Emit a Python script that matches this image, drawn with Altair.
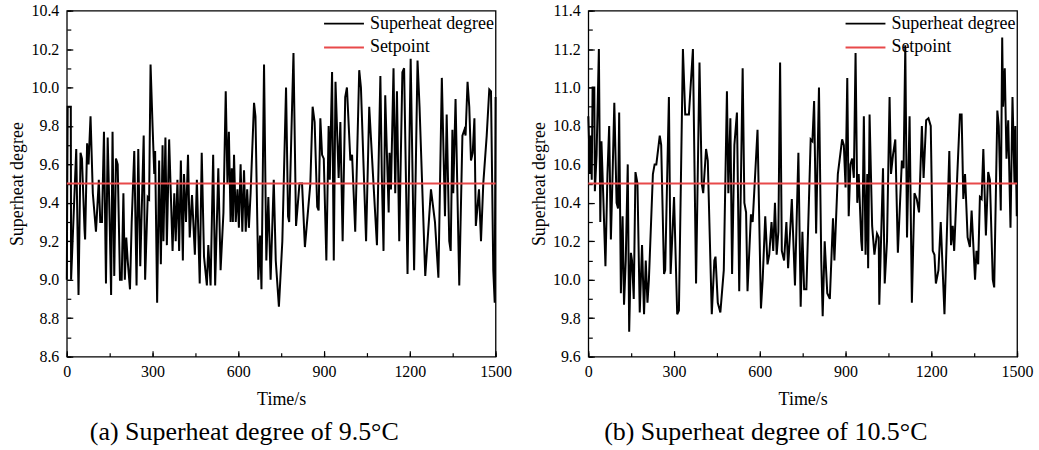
import altair as alt
import pandas as pd

FONT = "Liberation Serif"

# ---------------- data ----------------
t_a = [0, 3, 14, 15, 33, 41, 48, 53, 62, 64,
       71, 76, 83, 91, 102, 112, 117, 123, 130, 137,
       143, 150, 155, 160, 166, 172, 178, 186, 192, 198,
       203, 208, 213, 221, 227, 236, 244, 250, 257, 269,
       274, 283, 288, 293, 300, 306, 309, 316, 323, 329,
       335, 338, 345, 350, 358, 370, 376, 381, 387, 393,
       399, 406, 410, 417, 424, 430, 438, 448, 455, 465,
       472, 480, 490, 495, 503, 512, 519, 530, 538, 548,
       556, 562, 567, 573, 577, 581, 585, 591, 597, 602,
       608, 614, 620, 626, 631, 637, 643, 655, 660, 670,
       676, 681, 690, 698, 705, 713, 724, 731, 742, 754,
       767, 774, 778, 786, 793, 802, 814, 823, 833, 852,
       860, 867, 876, 881, 887, 893, 899, 908, 916, 920,
       928, 934, 940, 951, 957, 965, 974, 980, 992, 998,
       1009, 1023, 1029, 1047, 1058, 1071, 1085, 1097, 1102, 1108,
       1114, 1120, 1126, 1129, 1134, 1143, 1149, 1155, 1163, 1174,
       1180, 1192, 1203, 1215, 1227, 1234, 1254, 1274, 1288, 1300,
       1312, 1323, 1329, 1338, 1343, 1349, 1352, 1360, 1373, 1384,
       1391, 1395, 1402, 1408, 1414, 1420, 1426, 1431, 1442, 1449,
       1457, 1469, 1478, 1484, 1492, 1497, 1500]
v_a = [9.0, 9.9, 9.9, 9.0, 9.68, 8.92, 9.66, 9.63, 9.26, 9.21,
       9.71, 9.6, 9.85, 9.45, 9.25, 9.52, 9.3, 9.3, 9.77, 8.98,
       9.74, 9.3, 8.92, 9.77, 9.02, 9.63, 9.6, 9.0, 9.0, 9.45,
       9.0, 9.22, 9.1, 8.95, 9.3, 9.67, 8.97, 9.68, 9.07, 9.75,
       9.0, 9.43, 9.42, 10.12, 9.8, 9.55, 9.67, 8.88, 9.62, 9.08,
       9.7, 9.2, 9.74, 9.18, 9.73, 9.15, 9.45, 9.2, 9.52, 9.15,
       9.62, 9.1, 9.55, 9.3, 9.65, 9.22, 9.44, 9.13, 9.52, 8.98,
       9.66, 9.12, 8.97, 9.18, 8.97, 9.65, 8.97, 9.58, 9.05, 9.35,
       9.98, 9.5, 9.77, 9.3, 9.58, 9.3, 9.65, 9.3, 9.47, 9.27,
       9.6, 9.25, 9.57, 9.25, 9.47, 9.27, 9.45, 9.92, 9.85, 9.0,
       9.23, 8.95, 10.12, 9.1, 9.43, 9.0, 9.52, 9.1, 8.86, 9.2,
       10.0, 9.33, 9.3, 9.78, 10.18, 9.28, 9.5, 9.5, 9.17, 9.5,
       9.9, 9.82, 9.38, 9.36, 9.84, 9.65, 9.63, 9.1, 9.8, 9.52,
       10.08, 9.1, 10.03, 9.53, 9.82, 9.2, 9.95, 10.0, 9.62, 9.65,
       9.25, 10.09, 10.0, 9.2, 9.9, 9.55, 9.18, 10.06, 9.55, 9.15,
       9.96, 9.65, 9.35, 9.66, 9.47, 10.1, 9.45, 9.98, 9.2, 10.08,
       10.1, 9.03, 10.15, 9.05, 10.14, 9.9, 9.02, 9.47, 9.3, 9.01,
       10.05, 9.33, 9.86, 9.2, 9.15, 9.78, 9.45, 9.94, 8.97, 9.75,
       9.78, 9.75, 10.03, 9.9, 9.62, 9.66, 9.84, 9.28, 9.47, 9.2,
       9.5, 9.75, 9.99, 9.98, 9.05, 8.88, 9.95]

t_b = [0, 6, 9, 12, 15, 21, 23, 29, 37, 42,
       46, 52, 60, 67, 73, 79, 85, 91, 99, 104,
       108, 114, 120, 125, 131, 138, 143, 149, 153, 159,
       165, 172, 180, 188, 195, 201, 207, 212, 226, 232,
       238, 250, 255, 265, 269, 282, 288, 300, 311, 317,
       331, 339, 352, 366, 377, 389, 397, 402, 412, 418,
       432, 441, 445, 453, 462, 474, 485, 490, 497, 503,
       511, 520, 528, 540, 546, 552, 557, 569, 575, 592,
       604, 610, 619, 627, 633, 641, 647, 653, 659, 665,
       671, 677, 685, 693, 699, 706, 712, 723, 735, 743,
       749, 755, 763, 778, 784, 790, 797, 801, 807, 815,
       820, 827, 836, 845, 856, 861, 873, 888, 894, 900,
       906, 911, 917, 923, 929, 935, 941, 946, 955, 958,
       964, 970, 976, 979, 984, 993, 1001, 1010, 1016, 1018,
       1031, 1037, 1045, 1054, 1059, 1066, 1074, 1083, 1097, 1103,
       1109, 1115, 1124, 1132, 1141, 1149, 1157, 1167, 1173, 1182,
       1190, 1198, 1205, 1211, 1216, 1225, 1233, 1246, 1263, 1269,
       1275, 1280, 1291, 1300, 1306, 1312, 1318, 1327, 1335, 1341,
       1353, 1358, 1364, 1370, 1376, 1382, 1391, 1399, 1405, 1415,
       1420, 1431, 1436, 1443, 1448, 1451, 1457, 1463, 1469, 1477,
       1484, 1491, 1494, 1499]
v_b = [10.85, 10.55, 10.75, 10.52, 11.0, 11.0, 10.46, 10.65, 11.2, 10.3,
       10.72, 10.45, 10.07, 10.55, 10.8, 10.21, 10.55, 10.92, 10.4, 10.37,
       10.87, 9.93, 10.33, 9.87, 10.1, 10.6, 9.73, 10.14, 10.1, 9.9,
       10.56, 10.5, 9.83, 10.18, 9.82, 10.1, 9.88, 10.0, 10.55, 10.6,
       10.6, 10.75, 10.7, 10.03, 10.05, 10.95, 10.03, 10.43, 9.82, 9.84,
       11.2, 10.86, 10.86, 11.2, 9.98, 11.13, 10.5, 10.45, 10.68, 10.62,
       9.82, 10.1, 10.12, 9.88, 9.83, 10.05, 10.98, 10.45, 10.84, 10.03,
       10.7, 10.87, 9.94, 11.1, 10.4, 10.35, 9.94, 10.34, 10.3, 10.78,
       9.85, 10.0, 10.33, 10.08, 10.13, 10.3, 10.15, 10.4, 10.13, 10.25,
       11.13, 10.15, 10.1, 10.3, 10.06, 10.25, 10.42, 9.97, 10.66, 9.86,
       10.25, 9.95, 9.95, 10.73, 10.72, 10.93, 10.24, 10.55, 11.0, 10.1,
       9.81, 10.2, 9.93, 9.9, 10.32, 10.1, 10.55, 10.73, 10.7, 10.48,
       11.05, 10.33, 10.6, 10.63, 10.53, 11.18, 10.4, 10.55, 10.2, 10.15,
       10.85, 10.13, 10.55, 10.06, 10.86, 10.28, 10.13, 10.24, 10.22, 9.87,
       10.58, 9.98, 10.2, 10.95, 10.55, 10.65, 10.73, 10.14, 10.62, 10.58,
       11.22, 10.22, 10.85, 9.88, 10.45, 10.42, 10.35, 10.8, 10.53, 10.83,
       10.84, 10.8, 10.15, 10.13, 9.98, 10.05, 10.3, 9.82, 10.67, 10.18,
       10.28, 10.15, 10.55, 10.86, 10.86, 10.42, 10.55, 10.22, 10.17, 10.36,
       10.0, 10.15, 10.08, 10.43, 10.42, 10.68, 10.23, 10.56, 10.52, 10.0,
       9.96, 10.88, 10.8, 10.36, 11.26, 10.9, 11.1, 10.63, 10.83, 10.27,
       10.95, 10.5, 10.8, 10.33]

setpoint_a = 9.5
setpoint_b = 10.5

series_names = ["Superheat degree", "Setpoint"]
series_colors = ["#000000", "#e8494a"]

x_domain = [0, 1500]
x_major = [0, 300, 600, 900, 1200, 1500]
x_minor = [0, 150, 300, 450, 600, 750, 900, 1050, 1200, 1350, 1500]

y_domain_a = [8.6, 10.4]
y_major_a = [8.6, 8.8, 9.0, 9.2, 9.4, 9.6, 9.8, 10.0, 10.2, 10.4]
y_minor_a = [8.6, 8.7, 8.8, 8.9, 9.0, 9.1, 9.2, 9.3, 9.4, 9.5, 9.6, 9.7,
             9.8, 9.9, 10.0, 10.1, 10.2, 10.3, 10.4]

y_domain_b = [9.6, 11.4]
y_major_b = [9.6, 9.8, 10.0, 10.2, 10.4, 10.6, 10.8, 11.0, 11.2, 11.4]
y_minor_b = [9.6, 9.7, 9.8, 9.9, 10.0, 10.1, 10.2, 10.3, 10.4, 10.5, 10.6,
             10.7, 10.8, 10.9, 11.0, 11.1, 11.2, 11.3, 11.4]

caption_a = "(a) Superheat degree of 9.5°C"
caption_b = "(b) Superheat degree of 10.5°C"

W, H = 430, 347


def panel(t, v, sp, ydom, ymaj, ymin, caption):
    df = pd.DataFrame({"t": t, "v": v, "series": series_names[0]})
    sp_df = pd.DataFrame({"t": x_domain, "v": [sp, sp], "series": series_names[1]})
    xs = alt.Scale(domain=x_domain, nice=False, zero=False)
    ys = alt.Scale(domain=ydom, nice=False, zero=False)
    color = alt.Color(
        "series:N",
        scale=alt.Scale(domain=series_names, range=series_colors),
        legend=alt.Legend(
            orient="none", legendX=257, legendY=4, title=None,
            symbolType="stroke", symbolSize=1600, symbolStrokeWidth=1.8,
            clipHeight=18, rowPadding=6, labelFontSize=18, labelFont=FONT,
            labelColor="black", labelOffset=5, padding=0, labelLimit=300,
        ),
    )
    common = dict(domain=False, grid=False, tickColor="black", tickWidth=1.2)
    x_major_axis = alt.Axis(
        values=x_major, tickSize=6, offset=-6, format="d",
        labelFontSize=16, labelFont=FONT, labelColor="black", labelPadding=7,
        labelFlush=False, labelOverlap=False,
        title="Time/s", titleFontSize=18, titleFont=FONT, titleFontWeight="normal",
        titleColor="black", titlePadding=11, **common)
    y_major_axis = alt.Axis(
        values=ymaj, tickSize=6, offset=-6, format=".1f",
        labelFontSize=16, labelFont=FONT, labelColor="black", labelPadding=8,
        labelFlush=False, labelOverlap=False,
        title="Superheat degree", titleFontSize=18, titleFont=FONT,
        titleFontWeight="normal", titleColor="black", titlePadding=4, **common)
    x_minor_axis = alt.Axis(values=x_minor, tickSize=4, offset=-4, labels=False,
                            title=None, orient="bottom", **common)
    y_minor_axis = alt.Axis(values=ymin, tickSize=4, offset=-4, labels=False,
                            title=None, orient="left", **common)

    main = alt.Chart(df).mark_line(strokeWidth=2).encode(
        x=alt.X("t:Q", scale=xs, axis=x_major_axis),
        y=alt.Y("v:Q", scale=ys, axis=y_major_axis),
        color=color,
    )
    minor = alt.Chart(df).mark_line(opacity=0).encode(
        x=alt.X("t:Q", scale=xs, axis=x_minor_axis),
        y=alt.Y("v:Q", scale=ys, axis=y_minor_axis),
    )
    setp = alt.Chart(sp_df).mark_line(strokeWidth=2).encode(
        x=alt.X("t:Q", scale=xs, axis=None),
        y=alt.Y("v:Q", scale=ys, axis=None),
        color=color,
    )
    return alt.layer(main, minor, setp).resolve_axis(
        x="independent", y="independent"
    ).properties(
        width=W, height=H,
        title=alt.TitleParams(caption, orient="bottom", anchor="middle",
                              fontSize=26, font=FONT, fontWeight="normal",
                              color="black", dx=-37, offset=11),
    )


pa = panel(t_a, v_a, setpoint_a, y_domain_a, y_major_a, y_minor_a, caption_a)
pb = panel(t_b, v_b, setpoint_b, y_domain_b, y_major_b, y_minor_b, caption_b)

chart = alt.hconcat(pa, pb, spacing=17).resolve_scale(
    color="independent", y="independent", x="independent"
).resolve_legend(color="independent").properties(
    padding={"left": 8, "top": 1, "right": 5, "bottom": 0},
    background="white",
).configure_view(stroke="black", strokeWidth=1.3)

chart.save("out.html", embed_options={"renderer": "svg", "actions": False})
